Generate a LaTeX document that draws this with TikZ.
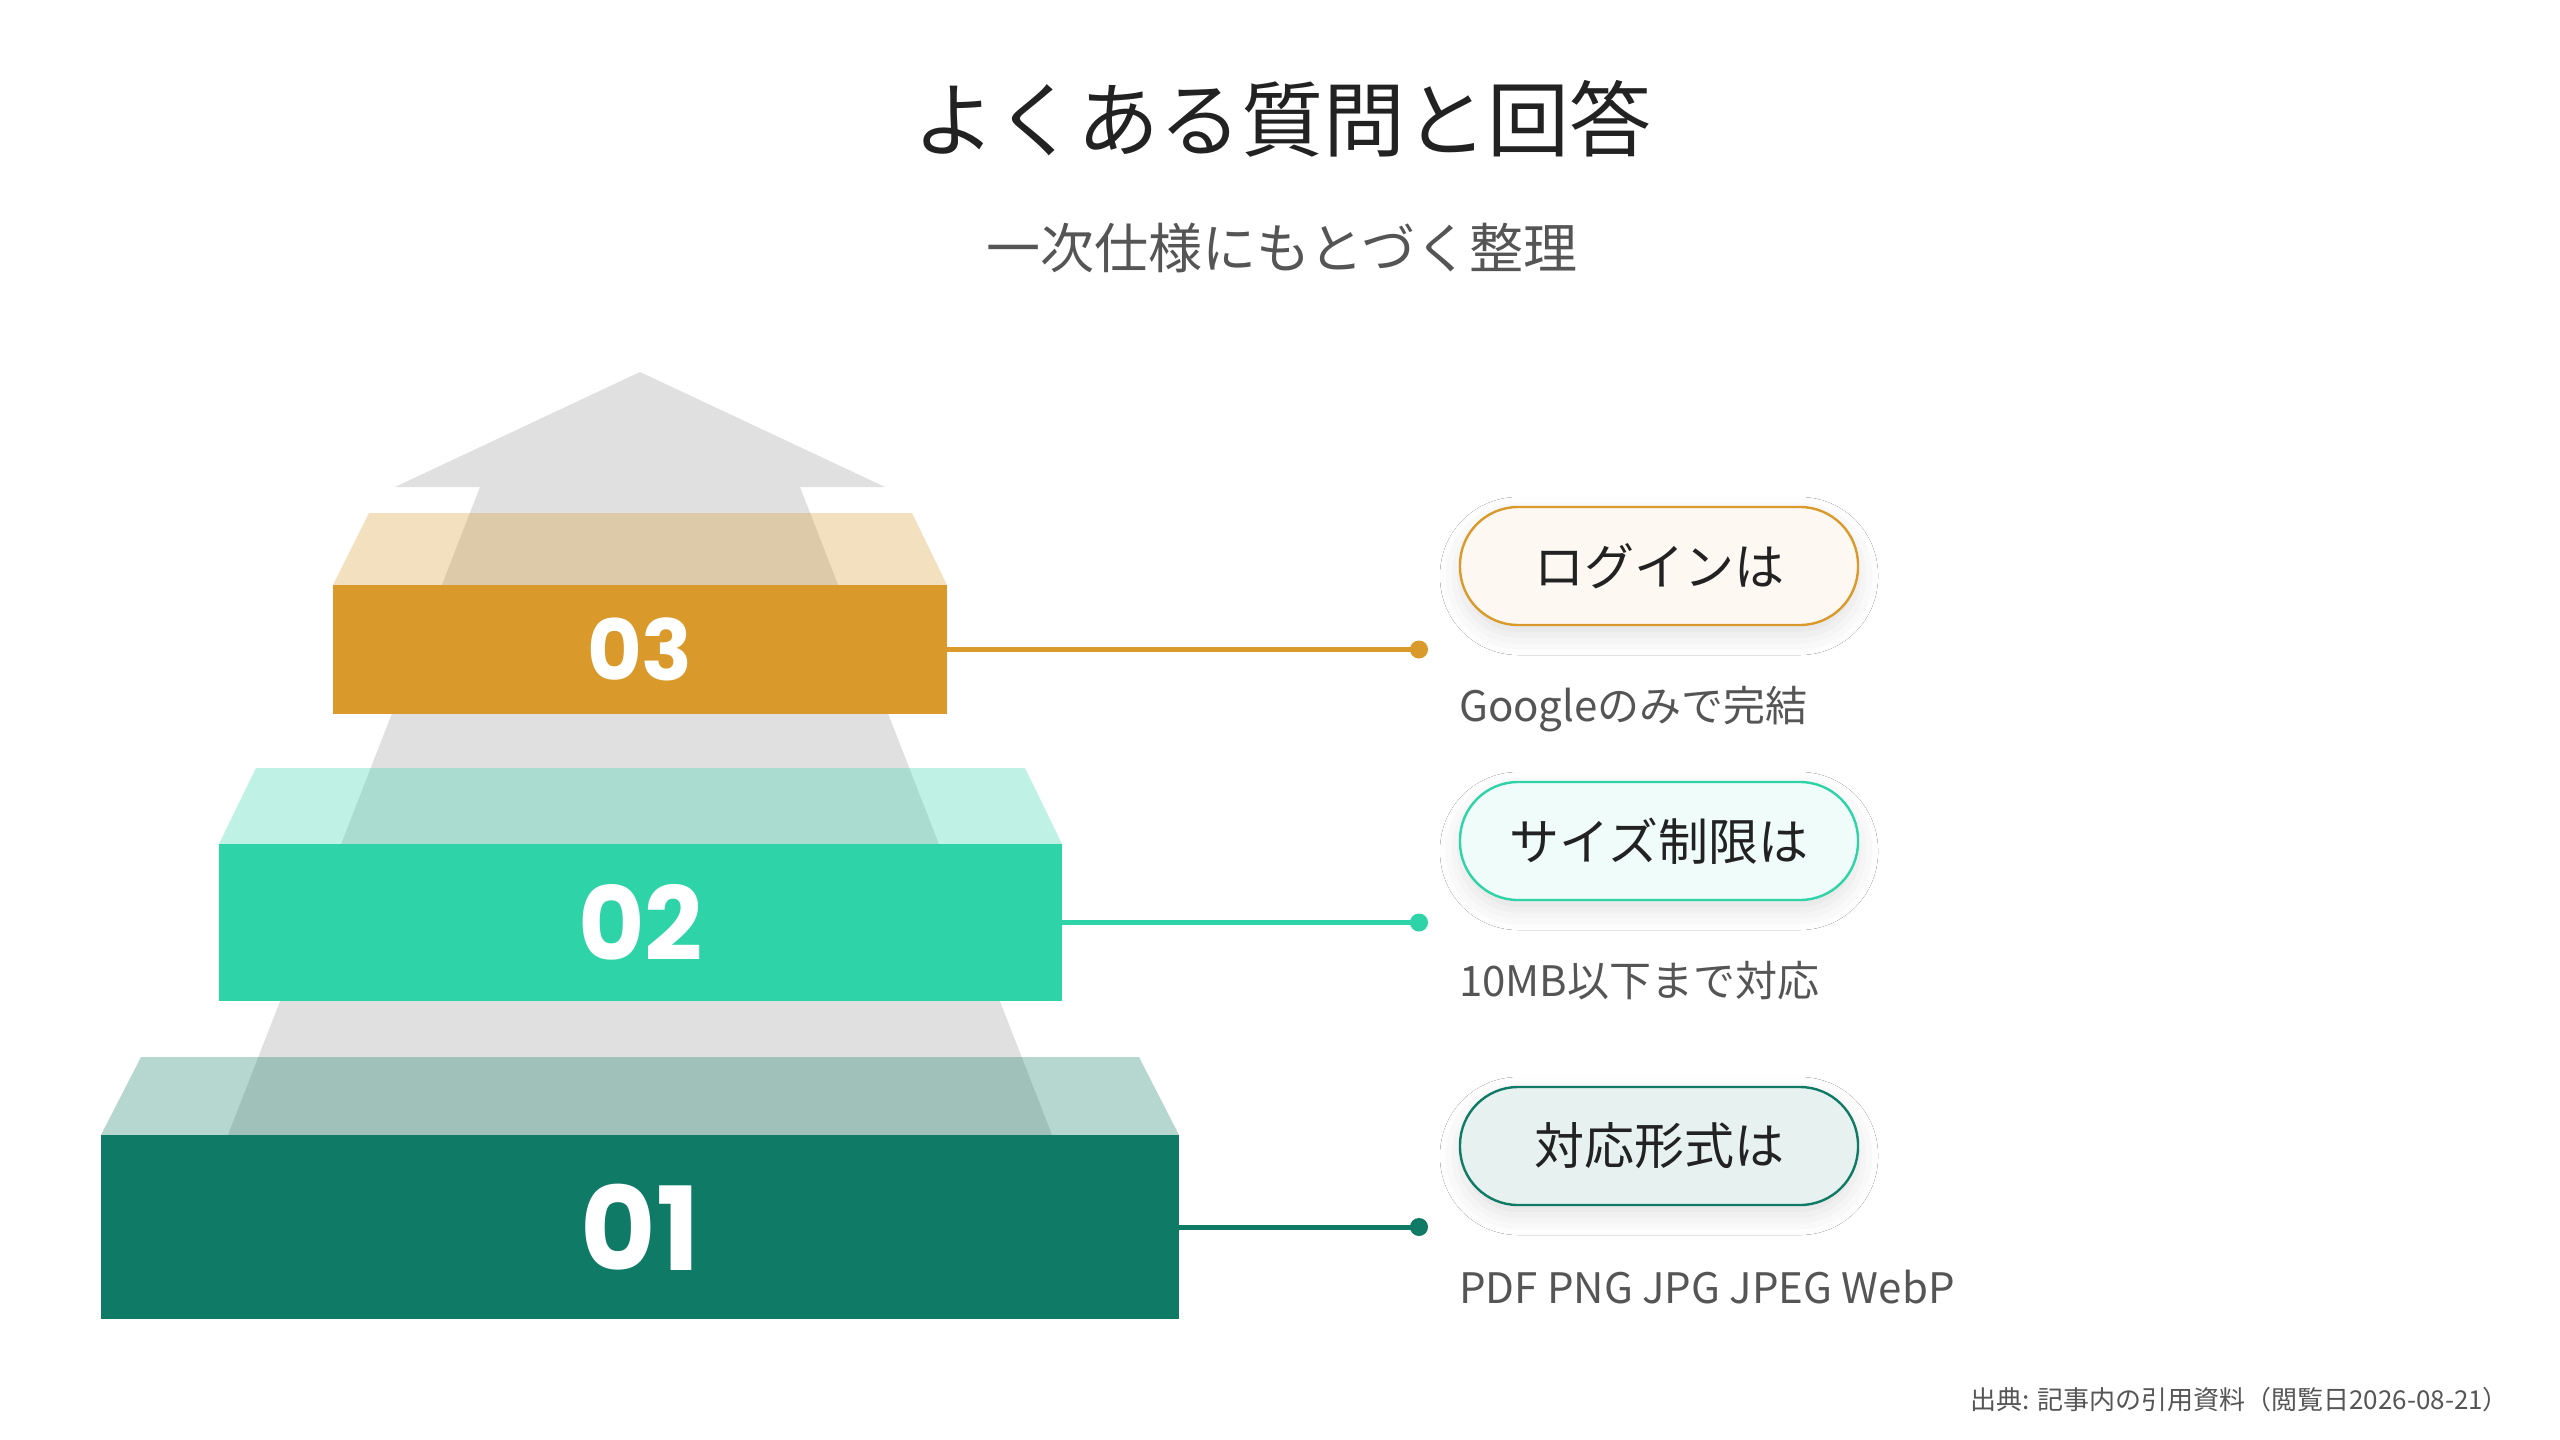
\documentclass[tikz,border=0pt]{standalone}
\usepackage{fontspec}
\setmainfont{Noto Sans CJK JP}
\newfontfamily\numfont{Poppins}
\usetikzlibrary{shadows.blur}
\definecolor{cA}{HTML}{D99A2B}
\definecolor{cB}{HTML}{2ED3A8}
\definecolor{cC}{HTML}{0F7A65}
\definecolor{arr}{HTML}{E0E0E0}
\definecolor{txt}{HTML}{222222}
\definecolor{sub}{HTML}{555555}
\begin{document}
\begin{tikzpicture}[x=0.5pt,y=-0.5pt,
  front/.style={draw=none},
  topface/.style={fill opacity=0.3},
  num/.style={text=white},
  conn/.style={line width=2.5pt},
  pill/.style={rounded corners=29pt,minimum width=199pt,minimum height=59pt,line width=1.2pt,font=\fontsize{25}{28}\selectfont,text=txt,blur shadow={shadow xshift=0pt,shadow yshift=-5pt,shadow blur radius=10pt,shadow opacity=12}},
  desc/.style={anchor=west,text=sub,font=\fontsize{21}{24}\selectfont}]
\useasboundingbox (0,0) rectangle (2560,1440);
\fill[white] (0,0) rectangle (2560,1440);
\node[text=txt,font=\fontsize{41}{46}\selectfont] (title) at (1282,119) {よくある質問と回答};
\node[text=sub,font=\fontsize{27}{30}\selectfont] (subtitle) at (1282,248) {一次仕様にもとづく整理};
% arrow
\fill[arr] (640,372) -- (885,487) -- (800,487) -- (1052,1135) -- (228,1135) -- (480,487) -- (395,487) -- cycle;
% top faces
\fill[cC,topface] (101,1135) -- (141,1057) -- (1139,1057) -- (1179,1135) -- cycle;
\fill[cB,topface] (219,844) -- (256,768) -- (1025,768) -- (1062,844) -- cycle;
\fill[cA,topface] (333,585) -- (369,513) -- (912,513) -- (947,585) -- cycle;
% fronts
\node[fill=cC,front,minimum width=539pt,minimum height=92pt,inner sep=0] (b1) at (640,1227) {};
\node[fill=cB,front,minimum width=421.5pt,minimum height=78.5pt,inner sep=0] (b2) at (640.5,922.5) {};
\node[fill=cA,front,minimum width=307pt,minimum height=64.5pt,inner sep=0] (b3) at (640,649.5) {};
\node[num,font=\numfont\bfseries\fontsize{58}{60}\selectfont] at (b1) {01};
\node[num,font=\numfont\bfseries\fontsize{51}{54}\selectfont] at (b2) {02};
\node[num,font=\numfont\bfseries\fontsize{42}{44}\selectfont] at (b3) {03};
% connectors
\coordinate (d3) at (1419,649.5);
\coordinate (d2) at (1419,922.5);
\coordinate (d1) at (1419,1227);
\draw[conn,cA] (b3.east) -- (d3); \fill[cA] (d3) circle (9);
\draw[conn,cB] (b2.east) -- (d2); \fill[cB] (d2) circle (9);
\draw[conn,cC] (b1.east) -- (d1); \fill[cC] (d1) circle (9);
% pills
\node[pill,draw=cA,fill=cA!6] (p3) at (1659,566) {ログインは};
\node[pill,draw=cB,fill=cB!7] (p2) at (1659,841) {サイズ制限は};
\node[pill,draw=cC,fill=cC!10] (p1) at (1659,1146) {対応形式は};
\node[desc] (t3) at (1452,709) {Googleのみで完結};
\node[desc] (t2) at (1452,981) {10MB以下まで対応};
\node[desc] (t1) at (1452,1287) {PDF PNG JPG JPEG WebP};
\node[anchor=east,text=sub,font=\fontsize{13}{15}\selectfont] (src) at (2516,1400) {出典: 記事内の引用資料（閲覧日2026-08-21）};
\end{tikzpicture}
\end{document}
